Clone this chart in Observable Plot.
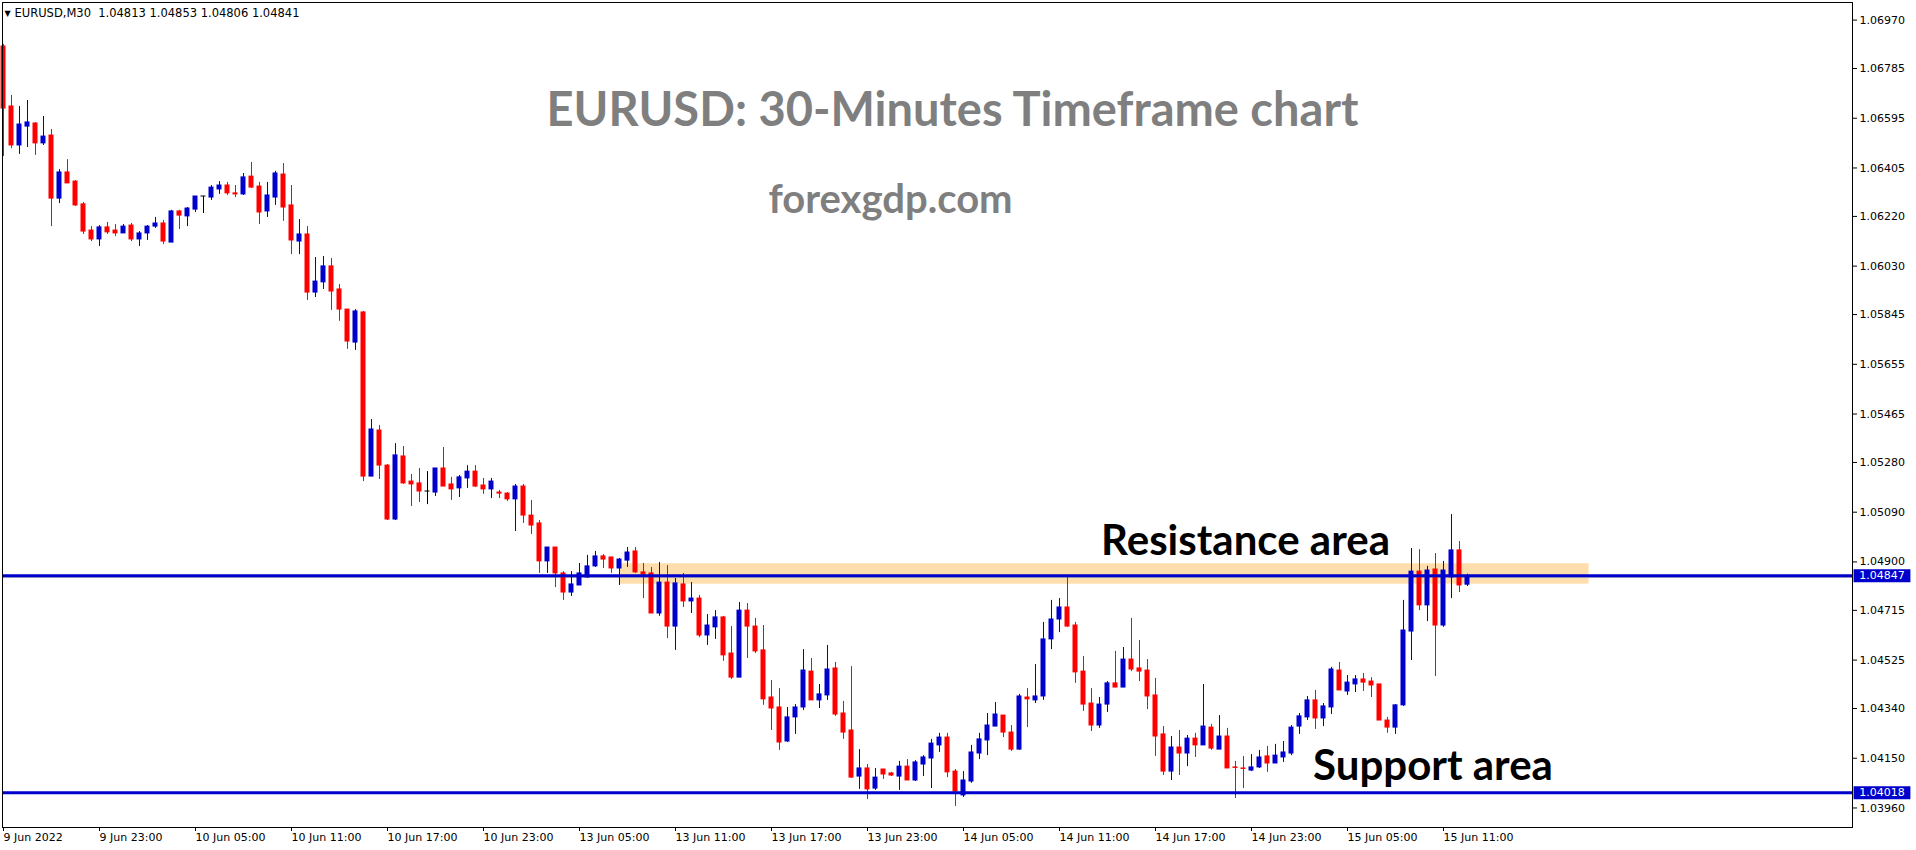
<!DOCTYPE html>
<html><head><meta charset="utf-8">
<script src="https://cdn.jsdelivr.net/npm/d3@7"></script>
<script src="https://cdn.jsdelivr.net/npm/@observablehq/plot@0.6"></script>
<style>html,body{margin:0;padding:0;background:#fff;overflow:hidden}</style>
</head><body><div id="chart"></div>
<script>
// EURUSD M30 candles (bar 0 = 9 Jun 2022 17:00)
const opens = [1.06869,1.06640,1.06491,1.06563,1.06575,1.06499,1.06529,1.06288,1.06388,1.06353,
1.06266,1.06166,1.06132,1.06178,1.06166,1.06155,1.06185,1.06132,1.06155,1.06181,
1.06193,1.06120,1.06239,1.06220,1.06246,1.06296,1.06292,1.06323,1.06338,1.06308,
1.06304,1.06372,1.06334,1.06239,1.06292,1.06380,1.06262,1.06124,1.06151,1.05929,
1.05968,1.06029,1.05941,1.05864,1.05738,1.05853,1.05226,1.05402,1.05268,1.05062,
1.05303,1.05207,1.05200,1.05169,1.05165,1.05257,1.05196,1.05181,1.05219,1.05245,
1.05192,1.05177,1.05165,1.05161,1.05139,1.05188,1.05077,1.05047,1.04902,1.04955,
1.04856,1.04783,1.04810,1.04841,1.04883,1.04921,1.04917,1.04875,1.04905,1.04940,
1.04860,1.04856,1.04703,1.04821,1.04653,1.04814,1.04749,1.04760,1.04619,1.04650,
1.04688,1.04550,1.04458,1.04714,1.04653,1.04562,1.04382,1.04344,1.04214,1.04306,
1.04344,1.04481,1.04371,1.04390,1.04493,1.04321,1.04256,1.04080,1.04111,1.04034,
1.04107,1.04092,1.04080,1.04118,1.04065,1.04126,1.04149,1.04199,1.04229,1.04099,
1.04008,1.04061,1.04168,1.04218,1.04271,1.04313,1.04248,1.04183,1.04382,1.04371,
1.04386,1.04604,1.04680,1.04726,1.04657,1.04481,1.04359,1.04275,1.04355,1.04436,
1.04420,1.04527,1.04493,1.04485,1.04390,1.04241,1.04099,1.04191,1.04168,1.04225,
1.04199,1.04267,1.04183,1.04233,1.04115,1.04111,1.04103,1.04115,1.04157,1.04130,
1.04153,1.04168,1.04271,1.04306,1.04371,1.04302,1.04344,1.04485,1.04405,1.04432,
1.04451,1.04443,1.04432,1.04294,1.04267,1.04352,1.04634,1.04863,1.04734,1.04871,
1.04657,1.04841,1.04944,1.04813];
const highs = [1.06877,1.06682,1.06640,1.06663,1.06578,1.06602,1.06552,1.06399,1.06437,1.06357,
1.06273,1.06181,1.06185,1.06197,1.06189,1.06189,1.06193,1.06162,1.06185,1.06216,
1.06204,1.06243,1.06243,1.06254,1.06296,1.06296,1.06338,1.06353,1.06350,1.06338,
1.06384,1.06426,1.06350,1.06350,1.06392,1.06422,1.06338,1.06208,1.06181,1.06063,
1.06067,1.06059,1.05960,1.05864,1.05864,1.05857,1.05444,1.05421,1.05272,1.05352,
1.05341,1.05234,1.05257,1.05245,1.05257,1.05337,1.05223,1.05230,1.05268,1.05268,
1.05219,1.05219,1.05173,1.05165,1.05196,1.05196,1.05135,1.05058,1.04955,1.04955,
1.04863,1.04863,1.04894,1.04925,1.04940,1.04928,1.04917,1.04913,1.04955,1.04955,
1.04894,1.04879,1.04898,1.04886,1.04837,1.04856,1.04821,1.04772,1.04699,1.04714,
1.04692,1.04653,1.04745,1.04741,1.04684,1.04657,1.04447,1.04416,1.04344,1.04355,
1.04565,1.04531,1.04432,1.04581,1.04516,1.04367,1.04500,1.04183,1.04126,1.04111,
1.04107,1.04096,1.04138,1.04145,1.04141,1.04160,1.04222,1.04245,1.04245,1.04107,
1.04099,1.04199,1.04245,1.04321,1.04363,1.04313,1.04275,1.04394,1.04416,1.04508,
1.04669,1.04753,1.04760,1.04843,1.04669,1.04539,1.04416,1.04382,1.04443,1.04558,
1.04573,1.04684,1.04600,1.04527,1.04455,1.04271,1.04233,1.04256,1.04237,1.04245,
1.04432,1.04279,1.04313,1.04264,1.04138,1.04157,1.04164,1.04180,1.04195,1.04203,
1.04214,1.04275,1.04321,1.04386,1.04409,1.04359,1.04497,1.04516,1.04466,1.04466,
1.04474,1.04458,1.04432,1.04306,1.04355,1.04753,1.04951,1.04947,1.04883,1.04932,
1.04902,1.05081,1.04978,1.04853];
const lows = [1.06449,1.06479,1.06457,1.06483,1.06453,1.06491,1.06181,1.06269,1.06346,1.06258,
1.06151,1.06124,1.06105,1.06151,1.06143,1.06155,1.06124,1.06105,1.06128,1.06174,
1.06113,1.06120,1.06170,1.06181,1.06235,1.06231,1.06281,1.06304,1.06300,1.06292,
1.06300,1.06327,1.06189,1.06216,1.06262,1.06201,1.06074,1.06074,1.05899,1.05910,
1.05941,1.05861,1.05819,1.05712,1.05708,1.05207,1.05226,1.05215,1.05058,1.05058,
1.05196,1.05112,1.05127,1.05119,1.05150,1.05188,1.05135,1.05146,1.05181,1.05184,
1.05158,1.05142,1.05142,1.05131,1.05016,1.05047,1.05005,1.04856,1.04856,1.04802,
1.04753,1.04768,1.04810,1.04837,1.04879,1.04875,1.04856,1.04810,1.04879,1.04856,
1.04760,1.04703,1.04692,1.04607,1.04562,1.04726,1.04703,1.04611,1.04581,1.04604,
1.04520,1.04451,1.04458,1.04531,1.04550,1.04352,1.04256,1.04180,1.04210,1.04241,
1.04332,1.04371,1.04340,1.04371,1.04310,1.04222,1.04073,1.04031,1.03992,1.04027,
1.04069,1.04080,1.04027,1.04065,1.04061,1.04080,1.04034,1.04172,1.04076,1.03966,
1.04000,1.04054,1.04145,1.04160,1.04271,1.04229,1.04176,1.04180,1.04267,1.04359,
1.04371,1.04565,1.04630,1.04650,1.04436,1.04329,1.04252,1.04264,1.04325,1.04420,
1.04420,1.04481,1.04443,1.04336,1.04157,1.04084,1.04065,1.04084,1.04118,1.04153,
1.04199,1.04180,1.04183,1.04111,1.03996,1.04034,1.04099,1.04111,1.04096,1.04130,
1.04134,1.04160,1.04241,1.04294,1.04260,1.04271,1.04317,1.04409,1.04390,1.04401,
1.04405,1.04382,1.04294,1.04245,1.04241,1.04348,1.04523,1.04714,1.04672,1.04462,
1.04650,1.04760,1.04783,1.04806];
const closes = [1.06632,1.06491,1.06571,1.06579,1.06499,1.06525,1.06288,1.06388,1.06346,1.06262,
1.06162,1.06132,1.06178,1.06159,1.06155,1.06181,1.06132,1.06155,1.06181,1.06193,
1.06124,1.06239,1.06223,1.06250,1.06296,1.06296,1.06330,1.06338,1.06308,1.06304,
1.06369,1.06330,1.06235,1.06300,1.06384,1.06254,1.06128,1.06151,1.05929,1.05971,
1.06029,1.05933,1.05864,1.05742,1.05857,1.05226,1.05406,1.05268,1.05062,1.05307,
1.05200,1.05196,1.05169,1.05169,1.05257,1.05188,1.05177,1.05223,1.05245,1.05188,
1.05177,1.05207,1.05161,1.05139,1.05188,1.05077,1.05039,1.04902,1.04955,1.04856,
1.04783,1.04814,1.04856,1.04883,1.04921,1.04909,1.04875,1.04909,1.04936,1.04860,
1.04852,1.04703,1.04821,1.04653,1.04818,1.04749,1.04760,1.04619,1.04657,1.04688,
1.04543,1.04458,1.04714,1.04653,1.04558,1.04375,1.04340,1.04210,1.04306,1.04344,
1.04485,1.04371,1.04394,1.04489,1.04317,1.04248,1.04076,1.04111,1.04031,1.04076,
1.04088,1.04084,1.04118,1.04065,1.04134,1.04153,1.04206,1.04229,1.04096,1.04023,
1.04065,1.04172,1.04222,1.04275,1.04317,1.04248,1.04183,1.04386,1.04375,1.04386,
1.04604,1.04680,1.04726,1.04653,1.04478,1.04355,1.04275,1.04355,1.04436,1.04420,
1.04527,1.04489,1.04481,1.04386,1.04233,1.04099,1.04191,1.04168,1.04225,1.04199,
1.04271,1.04187,1.04233,1.04111,1.04113,1.04109,1.04115,1.04153,1.04130,1.04160,
1.04172,1.04267,1.04310,1.04371,1.04302,1.04348,1.04489,1.04409,1.04439,1.04451,
1.04439,1.04428,1.04294,1.04267,1.04352,1.04638,1.04863,1.04734,1.04867,1.04657,
1.04867,1.04944,1.04810,1.04841];

const timeTickBars = [0,12,24,36,48,60,72,84,96,108,120,132,144,156,168,180];
const timeTickLabels = ["9 Jun 2022","9 Jun 23:00","10 Jun 05:00","10 Jun 11:00","10 Jun 17:00","10 Jun 23:00",
"13 Jun 05:00","13 Jun 11:00","13 Jun 17:00","13 Jun 23:00","14 Jun 05:00","14 Jun 11:00",
"14 Jun 17:00","14 Jun 23:00","15 Jun 05:00","15 Jun 11:00"];
const priceTicks = [1.06970,1.06785,1.06595,1.06405,1.06220,1.06030,1.05845,1.05655,1.05465,
1.05280,1.05090,1.04900,1.04715,1.04525,1.04340,1.04150,1.03960];
const levelLines = [1.04847, 1.04018];       // resistance, support
const bidPrice = 1.04841;
const zoneLow = 1.04815, zoneHigh = 1.04893;
const zoneStartBar = 77.1, zoneEndBar = 198.2;
const headerText = "EURUSD,M30\u00a0\u00a01.04813 1.04853 1.04806 1.04841";
const titleText = "EURUSD: 30-Minutes Timeframe chart";
const siteText = "forexgdp.com";
const annotations = [
  {text: "Resistance area", bar: 137.2, price: 1.04925},
  {text: "Support area", bar: 163.7, price: 1.04065}
];

const BLUE = "#0000CD", RED = "#FF0000";
const candles = opens.map((o, i) => ({i, o, h: highs[i], l: lows[i], c: closes[i]}));
const col = d => d.c > d.o ? BLUE : d.c < d.o ? RED : "#000000";
const labelOf = new Map(timeTickBars.map((b, k) => [b, timeTickLabels[k]]));
const xDomain = [-0.125, 231.125];

const chart = Plot.plot({
  width: 1916, height: 850,
  marginLeft: 2, marginRight: 64, marginTop: 2, marginBottom: 23,
  style: {fontFamily: "DejaVu Sans", fontSize: "11px", background: "#fff", color: "#000"},
  x: {type: "linear", domain: xDomain, axis: null},
  y: {domain: [1.038854, 1.070372], axis: null},
  color: {type: "identity"},
  marks: [
    Plot.rect([0], {x1: zoneStartBar, x2: zoneEndBar, y1: zoneLow, y2: zoneHigh, fill: "#FFDEAD"}),
    Plot.ruleY([bidPrice], {stroke: "#b0b0b0", strokeWidth: 1}),
    Plot.ruleX(candles, {x: "i", y1: "l", y2: "h", stroke: col, strokeWidth: 1}),
    Plot.rect(candles, {x1: d => d.i - 0.3125, x2: d => d.i + 0.3125,
      y1: d => Math.min(d.o, d.c), y2: d => Math.max(d.o, d.c), fill: col,
      insetTop: -0.5, insetBottom: -0.5}),
    Plot.ruleY(levelLines, {stroke: BLUE, strokeWidth: 3}),
    Plot.text(annotations, {x: "bar", y: "price", text: "text", textAnchor: "start", lineAnchor: "bottom",
      fontFamily: "Lato", fontWeight: "bold", fontSize: 42, fill: "#000"}),
    Plot.text([titleText], {frameAnchor: "top-left", dx: 950, dy: 123, textAnchor: "middle", lineAnchor: "bottom",
      fontFamily: "Lato", fontWeight: "bold", fontSize: 47, fill: "#7f7f7f"}),
    Plot.text([siteText], {frameAnchor: "top-left", dx: 888, dy: 210, textAnchor: "middle", lineAnchor: "bottom",
      fontFamily: "Lato", fontWeight: "bold", fontSize: 40, fill: "#7f7f7f"}),
    Plot.text(["\u25BC"], {frameAnchor: "top-left", dx: 5, dy: 11, textAnchor: "middle", lineAnchor: "middle", fontSize: 8}),
    Plot.text([headerText], {frameAnchor: "top-left", dx: 12, dy: 11, textAnchor: "start", lineAnchor: "middle", fontSize: 11.5}),
    Plot.axisY(priceTicks, {anchor: "right", tickSize: 4, tickPadding: 3, tickFormat: d => d.toFixed(5), fontSize: 11}),
    Plot.axisX(timeTickBars, {anchor: "bottom", tickSize: 4, tickPadding: 2, tickFormat: d => labelOf.get(d),
      textAnchor: "start", fontSize: 11}),
    Plot.ruleY(levelLines, {x1: xDomain[1] + 0.2, x2: xDomain[1] + 7.3, stroke: BLUE, strokeWidth: 13}),
    Plot.text(levelLines, {x: xDomain[1] + 0.85, y: d => d, text: d => d.toFixed(5), textAnchor: "start",
      fill: "#fff", fontSize: 11}),
    Plot.frame({stroke: "#000"})
  ]
});
document.getElementById("chart").appendChild(chart);
</script>
</body></html>
